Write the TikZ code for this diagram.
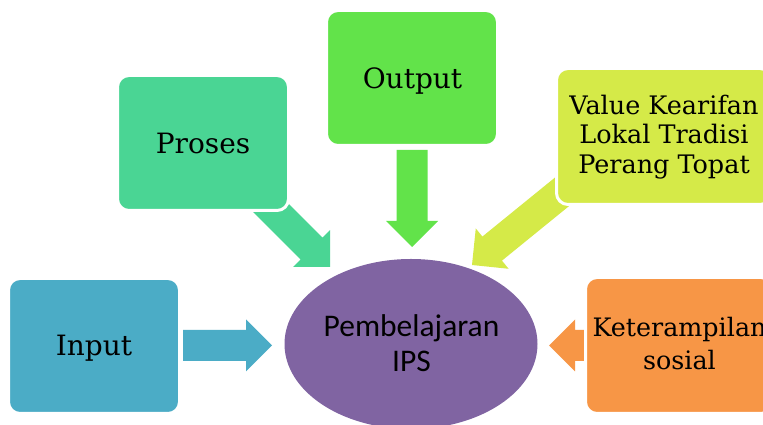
\documentclass[tikz,border=0pt]{standalone}
\usepackage{fontspec}
\setmainfont{DejaVu Serif}
\newfontfamily\corefont{Carlito}
\usetikzlibrary{calc,shapes.geometric}

\definecolor{inputblue}{HTML}{4BACC6}
\definecolor{prosesgreen}{HTML}{4AD594}
\definecolor{outputgreen}{HTML}{62E34A}
\definecolor{valuelime}{HTML}{D5EA48}
\definecolor{skillorange}{HTML}{F79646}
\definecolor{corepurple}{HTML}{8064A2}

\tikzset{
  card/.style={rectangle, rounded corners=11.5pt, draw=white, line width=3pt,
    minimum width=171pt, minimum height=135pt, inner sep=0pt, outer sep=0pt},
  cardtext/.style={anchor=base, inner sep=0pt, text=black,
    font=\fontsize{28}{33}\selectfont},
}

% block arrow: #1 colour, #2 start coordinate, #3 tip coordinate
\newcommand\blockarrow[3]{%
  \coordinate (#2-hb) at ($(#3)!26pt!(#2)$);
  \fill[#1]
    ($(#2)!15.5pt!90:(#3)$) --
    ($(#2-hb)!15.5pt!90:(#3)$) --
    ($(#2-hb)!26pt!90:(#3)$) --
    (#3) --
    ($(#2-hb)!26pt!-90:(#3)$) --
    ($(#2-hb)!15.5pt!-90:(#3)$) --
    ($(#2)!15.5pt!-90:(#3)$) -- cycle;
}

\begin{document}
\begin{tikzpicture}[x=1pt, y=1pt]
  \clip (0,0) rectangle (763,425);
  \fill[white] (0,0) rectangle (763,425);

  % arrow ends
  \coordinate (inS) at (183,79.5);   \coordinate (inT) at (272,79.5);
  \coordinate (prS) at (257,231);    \coordinate (prT) at (330,158);
  \coordinate (outS) at (412,275);   \coordinate (outT) at (412,178);
  \coordinate (valS) at (580.6,248.3); \coordinate (valT) at (472,160);
  \coordinate (skS) at (595,79.5);   \coordinate (skT) at (549,79.5);

  \blockarrow{inputblue}{inS}{inT}
  \blockarrow{prosesgreen}{prS}{prT}
  \blockarrow{outputgreen}{outS}{outT}
  \blockarrow{valuelime}{valS}{valT}
  \blockarrow{skillorange}{skS}{skT}

  % boxes
  \node[card, fill=inputblue]   (input)  at (94,79) {};
  \node[card, fill=prosesgreen] (proses) at (203,282) {};
  \node[card, fill=outputgreen] (output) at (412,347) {};
  \node[card, fill=valuelime, minimum width=215pt, minimum height=136pt] (value) at (664,288.5) {};
  \node[card, fill=skillorange, minimum width=187pt, minimum height=136pt] (skill) at (679,79.5) {};

  % central ellipse
  \node[ellipse, fill=corepurple, minimum width=253pt, minimum height=170pt,
        inner sep=0pt] (core) at (411,81) {};

  % texts
  \node[cardtext] (inputtxt)  at (94,69) {Input};
  \node[cardtext] (prosestxt) at (203,271.7) {Proses};
  \node[cardtext] (outputtxt) at (412.5,336.7) {Output};
  \node[cardtext, font=\fontsize{25.5}{29.5}\selectfont] (valuetxt) at (664,310.7)
    {\begin{tabular}[t]{@{}c@{}}Value Kearifan\\Lokal Tradisi\\Perang Topat\end{tabular}};
  \node[cardtext, font=\fontsize{25.4}{33}\selectfont] (skilltxt) at (679.5,88.3)
    {\begin{tabular}[t]{@{}c@{}}Keterampilan\\sosial\end{tabular}};
  \node[cardtext, font=\corefont\fontsize{31.5}{35}\selectfont] (coretxt) at (411.5,88.3)
    {\begin{tabular}[t]{@{}c@{}}Pembelajaran\\IPS\end{tabular}};
\end{tikzpicture}
\end{document}
